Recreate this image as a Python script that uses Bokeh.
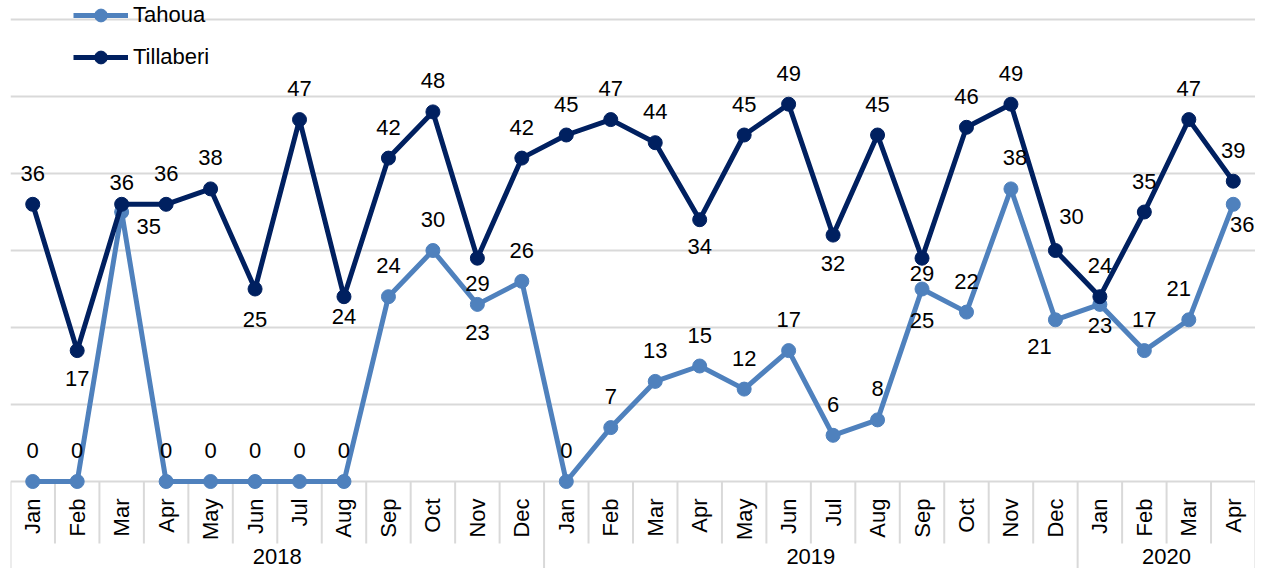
from math import pi
from bokeh.plotting import figure
from bokeh.models import (FactorRange, Range1d, Grid, FixedTicker, Legend, LegendItem,
                          ColumnDataSource)
from bokeh.core.properties import value
from bokeh.embed import file_html
from bokeh.resources import INLINE

# ---------------- data ----------------
years = ["2018"] * 12 + ["2019"] * 12 + ["2020"] * 4
months = ["Jan", "Feb", "Mar", "Apr", "May", "Jun", "Jul", "Aug", "Sep", "Oct", "Nov", "Dec",
          "Jan", "Feb", "Mar", "Apr", "May", "Jun", "Jul", "Aug", "Sep", "Oct", "Nov", "Dec",
          "Jan", "Feb", "Mar", "Apr"]
year_labels = ["2018", "2019", "2020"]
tahoua = [0, 0, 35, 0, 0, 0, 0, 0, 24, 30, 23, 26,
          0, 7, 13, 15, 12, 17, 6, 8, 25, 22, 38, 21,
          23, 17, 21, 36]
tillaberi = [36, 17, 36, 36, 38, 25, 47, 24, 42, 48, 29, 42,
             45, 47, 44, 34, 45, 49, 32, 45, 29, 46, 49, 30,
             24, 35, 47, 39]

# label placement (screen pixel offsets), kept separate from data
A, B = -31, 28
tah_dx = [0, 0, 27, 0, 0, 0, 0, 0, 0, 0, 0, 0,
          0, 0, 0, 0, 0, 0, 0, 0, 0, 0, 4, -16,
          0, 0, -10, 9]
tah_dy = [A, A, 14, A, A, A, A, A, A, A, B, A,
          A, A, A, A, A, A, A, A, 31, A, A, 27,
          21, A, A, 20]
til_dx = [0] * 23 + [16, 0, 0, 0, 0]
til_dy = [A, B, -22, A, A, 30, A, 20, A, A, 25, A,
          A, A, A, 27, A, A, B, A, 15, A, A, -34,
          A, A, A, A]

TAH_C = "#4F81BD"
TIL_C = "#002060"
GRID_C = "#D9D9D9"
FONT_NAME = "Liberation Sans"
FONT = value(FONT_NAME)

factors = list(zip(years, months))

W, H = 1255, 568
PX = 7.7          # pixels per unit
Y0 = 481          # pixel row of value 0
y_top = Y0 / PX
y_bot = -(H - Y0) / PX

p = figure(width=W, height=H,
           x_range=FactorRange(*factors, factor_padding=0, group_padding=0,
                               subgroup_padding=0, range_padding=0),
           y_range=Range1d(y_bot, y_top),
           x_axis_location=None, y_axis_location=None,
           output_backend="svg", toolbar_location=None,
           min_border_left=10, min_border_right=0, min_border_top=0, min_border_bottom=0,
           outline_line_color=None)
p.xgrid.visible = False
p.ygrid.visible = False

p.add_layout(Grid(dimension=1, ticker=FixedTicker(ticks=[0, 10, 20, 30, 40, 50, 60]),
                  grid_line_color=GRID_C, grid_line_width=2))

# category axis box (separators)
sep_x, sep_y1 = [], []
for i in range(len(factors) + 1):
    if i < len(factors):
        sep_x.append((years[i], months[i], -0.5))
    else:
        sep_x.append((years[-1], months[-1], 0.5))
    is_year_edge = i == 0 or i == len(factors) or years[i] != years[i - 1]
    sep_y1.append(y_bot - 2 if is_year_edge else -(543 - Y0) / PX)
p.segment(x0=sep_x, y0=[0] * len(sep_x), x1=sep_x, y1=sep_y1,
          line_color=GRID_C, line_width=2)

# month labels
p.text(x=factors, y=[-(498 - Y0) / PX] * len(factors), text=months, angle=pi / 2,
       text_align="right", text_baseline="middle", text_font=FONT,
       text_font_size="22px", text_color="black")
# year labels
p.text(x=year_labels, y=[-(556 - Y0) / PX] * len(year_labels), text=year_labels,
       text_align="center", text_baseline="middle", text_font=FONT,
       text_font_size="22px", text_color="black")

# series
src_tah = ColumnDataSource(dict(x=factors, y=tahoua, t=[str(v) for v in tahoua],
                                dx=tah_dx, dy=tah_dy))
src_til = ColumnDataSource(dict(x=factors, y=tillaberi, t=[str(v) for v in tillaberi],
                                dx=til_dx, dy=til_dy))

tl = p.line("x", "y", source=src_tah, line_color=TAH_C, line_width=5)
ts = p.scatter("x", "y", source=src_tah, size=14, fill_color=TAH_C, line_color=TAH_C)
kl = p.line("x", "y", source=src_til, line_color=TIL_C, line_width=5)
ks = p.scatter("x", "y", source=src_til, size=14, fill_color=TIL_C, line_color=TIL_C)

for src in (src_tah, src_til):
    p.text("x", "y", text="t", source=src, x_offset="dx", y_offset="dy",
           text_align="center", text_baseline="middle", text_font=FONT,
           text_font_size="22px", text_color="black")

legend = Legend(items=[LegendItem(label="Tahoua", renderers=[tl, ts]),
                       LegendItem(label="Tillaberi", renderers=[kl, ks])],
                location=(63, 495), orientation="vertical",
                glyph_width=55, glyph_height=32, label_standoff=5, spacing=10,
                padding=0, margin=0,
                label_text_font=FONT_NAME, label_text_font_size="22px",
                label_text_color="black",
                background_fill_alpha=0, border_line_alpha=0)
p.add_layout(legend)

open("out.html", "w").write(file_html(p, INLINE))
